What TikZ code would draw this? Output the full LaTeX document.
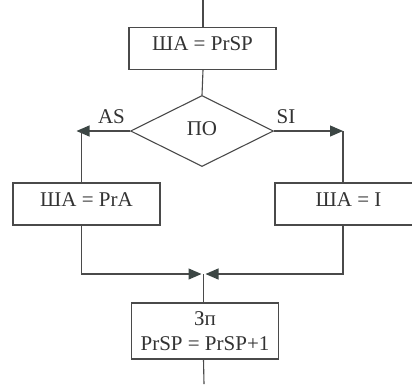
\documentclass[tikz,border=0pt]{standalone}
\usepackage{fontspec}
\setmainfont{Liberation Serif}
\usetikzlibrary{arrows.meta,shapes.geometric}
\definecolor{lncol}{HTML}{4A4A4A}
\definecolor{ahcol}{HTML}{3C4644}
\definecolor{txcol}{HTML}{333333}
\begin{document}
\begin{tikzpicture}[x=1pt,y=-1pt,
  every node/.style={font=\fontsize{21}{25}\selectfont, text=txcol},
  rectbase/.style={draw=lncol, line width=1.1pt, minimum width=147pt, inner sep=0pt, align=center},
  box/.style={rectbase, minimum height=42pt, text height=14pt, text depth=10pt},
  decision/.style={diamond, draw=lncol, line width=1.1pt, minimum width=143pt, minimum height=71pt, inner sep=0pt, aspect=2, text depth=5pt},
  lnk/.style={draw=lncol, line width=1.1pt},
  arr/.style={lnk, -{Triangle[length=13pt,width=11pt,color=ahcol]}},
  lbl/.style={anchor=base}]
\useasboundingbox (0,0) rectangle (412,384);
\node[box] (b1) at (202.5,48.5) {ША = PrSP};
\node[decision] (d) at (202,131) {ПО};
\node[lbl] (as) at (111.5,123) {AS};
\node[lbl] (si) at (286,123) {SI};
\node[box] (lb) at (86.5,204) {ША = PrA};
\node[box] (rb) at (348.5,204) {ША = I};
\node[rectbase, minimum height=56pt] (bb) at (205,331) {Зп\\PrSP = PrSP+1};
\coordinate (top) at (203,0);
\coordinate (bot) at (204,384);
\coordinate (lcor) at (81.5,131);
\coordinate (rcor) at (343,131);
\coordinate (m) at (203.5,274);
\draw[lnk] (top) -- (b1.north -| top);
\draw[lnk] (b1.south -| top) -- (d.north);
\draw[arr] (d.west) -- ([xshift=-5pt]lcor);
\draw[lnk] (lcor) -- (lcor |- lb.north);
\draw[arr] (d.east) -- (rcor);
\draw[lnk] (rcor) -- (rcor |- rb.north);
\draw[arr] (lcor |- lb.south) -- (lcor |- m) -- ([xshift=-2pt]m);
\draw[arr] (rcor |- rb.south) -- (rcor |- m) -- ([xshift=2pt]m);
\draw[lnk] (m) -- (m |- bb.north);
\draw[lnk] (bb.south -| m) -- (bot);
\end{tikzpicture}
\end{document}
